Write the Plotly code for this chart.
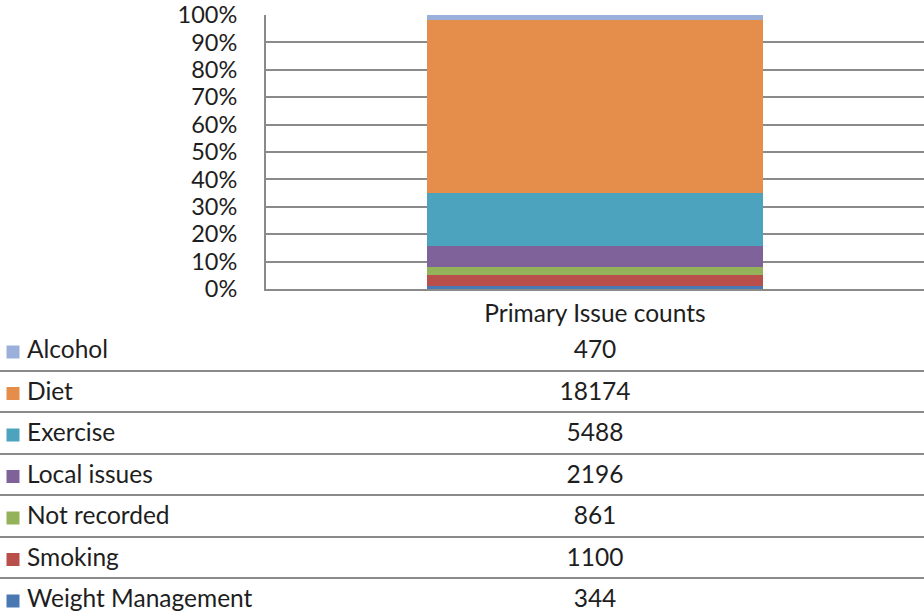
import plotly.graph_objects as go

# ---- data (table order, top to bottom) ----
categories = ["Primary Issue counts"]
series_names = ["Alcohol", "Diet", "Exercise", "Local issues", "Not recorded", "Smoking", "Weight Management"]
series_values = [470, 18174, 5488, 2196, 861, 1100, 344]
series_colors = ["#9AB0DA", "#E58D4A", "#4BA3BE", "#7E6299", "#93B25A", "#B94F4B", "#4A78B2"]
y_tick_vals = [0, 10, 20, 30, 40, 50, 60, 70, 80, 90, 100]
y_tick_text = ["0%", "10%", "20%", "30%", "40%", "50%", "60%", "70%", "80%", "90%", "100%"]

FONT = "Lato"
TXT = "#1e1e1e"
GRID = "#8a8a8a"

W, H = 924, 612
top, plot_bottom, plot_left = 15, 289, 266
table_top = 330
row0, row_h = 352, 41.5      # text centre of first row
sep_shift = 2 / row_h        # separators sit 2px above the row midpoints

fig = go.Figure()

# stacked 100% columns (first trace at bottom)
for name, val, col in reversed(list(zip(series_names, series_values, series_colors))):
    fig.add_trace(go.Bar(
        x=categories, y=[val], name=name, marker=dict(color=col, line=dict(width=0)),
        xaxis="x", yaxis="y", showlegend=False, hoverinfo="name+y",
    ))

# data table below chart
rows = list(range(len(series_names)))
fig.add_trace(go.Scatter(
    x=[13] * len(rows), y=rows, mode="markers",
    marker=dict(symbol="square", size=13, color=series_colors, line=dict(width=0)),
    xaxis="x2", yaxis="y2", showlegend=False, hoverinfo="skip",
))
fig.add_trace(go.Scatter(
    x=[27] * len(rows), y=rows, mode="text", text=series_names,
    textposition="middle right", textfont=dict(family=FONT, size=24.5, color=TXT),
    xaxis="x2", yaxis="y2", showlegend=False, hoverinfo="skip",
))
fig.add_trace(go.Scatter(
    x=[595] * len(rows), y=rows, mode="text", text=[str(v) for v in series_values],
    textposition="middle center", textfont=dict(family=FONT, size=24.5, color=TXT),
    xaxis="x2", yaxis="y2", showlegend=False, hoverinfo="skip",
))

plot_h = H - top
r_top = (table_top - row0) / row_h
r_bot = (H - row0) / row_h

fig.update_layout(
    width=W, height=H,
    margin=dict(l=0, r=0, t=top, b=0, autoexpand=False),
    paper_bgcolor="white", plot_bgcolor="white",
    barmode="stack", barnorm="percent", bargap=0.49,
    font=dict(family=FONT, size=23, color=TXT),
    xaxis=dict(
        domain=[plot_left / W, 1], anchor="y", type="category", automargin=False,
        showgrid=False, showline=True, linecolor=GRID, linewidth=2,
        ticks="", ticklabelstandoff=2, tickfont=dict(family=FONT, size=24.5, color=TXT),
    ),
    yaxis=dict(
        domain=[(H - plot_bottom) / plot_h, 1], anchor="x", automargin=False,
        range=[0, 100], tickmode="array", tickvals=y_tick_vals, ticktext=y_tick_text,
        showgrid=True, gridcolor=GRID, gridwidth=2,
        showline=True, linecolor=GRID, linewidth=2, mirror=False,
        ticks="", ticklabelstandoff=22,
        tickfont=dict(family=FONT, size=23.5, color=TXT), zeroline=False,
    ),
    xaxis2=dict(
        domain=[0, 1], anchor="y2", range=[0, W], automargin=False,
        showgrid=False, showline=False, zeroline=False,
        showticklabels=False, ticks="",
    ),
    yaxis2=dict(
        domain=[0, (H - table_top) / plot_h], anchor="x2", automargin=False,
        range=[r_bot, r_top],
        tickvals=[r + 0.5 - sep_shift for r in rows[:-1]],
        showgrid=True, gridcolor=GRID, gridwidth=2,
        showticklabels=False, ticks="", zeroline=False, showline=False,
    ),
)

fig.write_html(
    "out.html",
    config={"displayModeBar": False},
    post_script="document.body.style.margin='0';document.body.style.overflow='hidden';",
)
